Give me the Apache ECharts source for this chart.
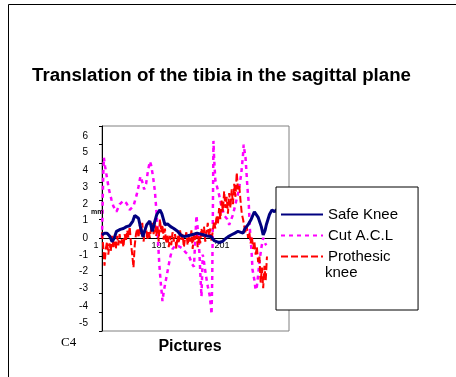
<!DOCTYPE html>
<html>
<head>
<meta charset="utf-8">
<script src="https://cdn.jsdelivr.net/npm/echarts@6/dist/echarts.min.js"></script>
<style>
  html, body { margin: 0; padding: 0; background: #fff; }
  #chart { width: 456px; height: 377px; }
</style>
</head>
<body>
<div id="chart"></div>
<script>
// ---- Data ----
const titleText = 'Translation of the tibia in the sagittal plane';
const seriesNames = ['Safe Knee', 'Cut A.C.L', 'Prothesic knee'];
const xTickLabels = [1, 101, 201];
const yTickValues = [-5, -4, -3, -2, -1, 0, 1, 2, 3, 4, 5, 6];

const safeFrames = [1,5,9,13,17,20,24,30,35,40,45,48,50,53,56,59,62,66,69,72,77,81,85,88,93,96,101,105,110,115,121,126,131,136,142,147,152,158,163,168,174,179,183,187,192,197,201,206,212,217,220,225,228,233,238,243,246,249,254,257,260,262,267,271,275,280,285,290,298];
const safeValues = [0.15,0.25,0.25,0.1,-0.2,-0.05,0.35,0.45,0.5,0.6,0.65,0.7,0.9,1.2,1.15,1.05,0.6,0.05,0.4,0.7,0.9,0.35,0.9,1.25,1.5,1.3,0.7,0.75,0.6,0.5,0.35,0.15,0.07,0.1,0.15,0.2,0.25,0.2,0.15,0.1,0.07,-0.15,-0.2,-0.25,-0.2,-0.05,0.05,0.15,0.25,0.35,0.38,0.25,0.5,0.7,1.0,1.4,1.3,1.1,0.6,0.15,0.4,0.7,1.25,1.5,1.4,1.55,1.6,1.5,1.6];

const aclFrames = [1,2,3,4,6,8,12,16,19,24,29,35,40,45,51,56,59,62,65,68,71,74,77,79,82,85,88,90,92,94,96,97,99,102,104,107,110,113,118,123,128,133,139,144,147,149,151,153,155,156,157,158,159,161,163,166,169,172,174,175,176,177,178,179,181,184,187,190,192,195,200,203,206,209,214,218,220,222,225,226,228,229,230,232,234,235,236,238,239,240,243,245,247,249,251,254,257,260,262];
const aclValues = [0,1.8,3.4,4.3,3.8,3.4,2.6,2.05,1.7,1.4,1.8,2.0,1.85,1.5,1.7,2.3,2.75,3.3,3.0,2.6,2.9,3.6,4.1,3.9,3.3,2.5,1.2,-0.2,-1.4,-2.3,-3.0,-3.4,-2.9,-2.35,-2.0,-1.45,-0.95,-0.6,-0.4,-0.45,-0.55,-0.75,-0.95,-1.4,-1.55,-0.2,1.2,0.5,-0.4,-1.0,-1.8,-2.5,-3.15,-0.9,-1.3,-2.0,-2.6,-3.1,-3.7,-4.1,-2.3,1.0,5.2,4.3,3.1,2.7,2.3,1.8,1.6,1.2,1.0,0.7,0.8,1.24,1.95,2.5,2.94,3.39,4.46,5.0,4.5,4.28,3.75,2.67,1.9,1.15,0.43,-0.47,-1.0,-1.7,-2.26,-2.8,-2.6,-2.0,-1.3,-0.55,0,-0.3,-0.4];

const protFrames = [1,3,5,7,9,11,13,15,17,19,21,23,25,27,29,31,33,35,37,39,41,43,45,47,49,51,53,55,57,59,61,63,65,67,69,71,73,75,77,79,81,83,85,87,89,91,93,95,97,99,101,103,105,107,109,111,113,115,117,119,121,123,125,127,129,131,133,135,137,139,141,143,145,147,149,151,153,155,157,159,161,163,165,167,169,171,173,175,177,179,181,183,185,187,189,191,193,195,197,199,201,203,205,207,209,211,213,215,217,219,221,223,225,227,229,231,233,235,237,239,241,243,245,247,249,251,253,255,257,259,261,263];
const protValues = [0.3,-0.5,-1.5,-0.6,-0.2,-0.9,-0.3,-0.7,0.1,-0.5,-0.2,-0.6,0.1,-0.4,0.2,-0.3,0.0,-0.5,0.2,-0.2,0.4,0.0,0.6,-0.3,-0.9,-1.6,-0.4,0.2,0.5,0.0,0.7,0.2,0.8,-0.2,0.3,0.6,-0.1,0.4,0.0,0.5,0.8,0.2,0.9,0.1,0.6,-0.2,1.0,0.3,0.7,-0.1,0.5,-0.3,0.2,-0.5,0.1,-0.4,0.3,-0.2,0.2,-0.6,0.1,-0.3,0.4,-0.1,0.2,-0.5,0.0,0.3,-0.4,0.1,-0.2,0.4,-0.6,0.2,-0.1,0.3,-0.5,0.1,-0.3,0.5,0.0,0.6,-0.2,0.3,0.8,0.1,0.5,-0.2,0.4,0.9,0.5,1.2,0.7,1.6,1.0,2.0,1.4,2.5,1.6,2.2,1.3,2.4,1.6,2.6,1.8,2.9,2.2,3.5,2.6,2.8,2.0,1.3,1.0,0.6,0.3,0.6,0.0,0.3,-0.3,0.1,-0.6,-0.2,-0.9,-0.5,-1.3,-1.0,-2.4,-1.6,-2.7,-1.5,-2.3,-1.0];

const pairs = (xs, ys) => xs.map((x, i) => [x, ys[i]]);

const FONT = '"Liberation Sans", Arial, sans-serif';
const chart = echarts.init(document.getElementById('chart'), null, { renderer: 'canvas' });

// grid geometry
const GRID_TOP = 126, GRID_H = 205, Y_MIN = -5, Y_MAX = 6;
const unitPx = GRID_H / (Y_MAX - Y_MIN);
const zeroOffset = -Math.round(GRID_H * (0 - Y_MIN) / (Y_MAX - Y_MIN)); // lift x axis up to y = 0

// The reference prints its y labels on a slightly tighter pitch (17px) than the ticks;
// reproduce that with per-label padding in rich text.
const LABEL_PITCH = 17;
const labelKey = v => (v < 0 ? 'm' : 'p') + Math.abs(v);
const yRich = {};
yTickValues.forEach(v => {
  const shift = (unitPx - LABEL_PITCH) * v; // + means move down
  const pad = Math.round(Math.abs(shift) * 2);
  yRich[labelKey(v)] = {
    fontFamily: FONT, fontSize: 10, color: '#000',
    padding: shift >= 0 ? [pad, 0, 0, 0] : [0, 0, pad, 0]
  };
});

chart.setOption({
  animation: false,
  backgroundColor: '#fff',
  title: {
    text: titleText,
    left: 32, top: 66, padding: 0,
    textStyle: { fontFamily: FONT, fontSize: 18.7, fontWeight: 'bold', color: '#000' }
  },
  grid: {
    left: 102, top: GRID_TOP, width: 187, height: GRID_H,
    show: true, borderColor: '#808080', borderWidth: 1, backgroundColor: 'transparent'
  },
  legend: {
    left: 276, top: 187, orient: 'vertical', z: 10,
    itemWidth: 42, itemHeight: 14, itemGap: 6,
    padding: [20, 20, 46, 4],
    backgroundColor: '#fff', borderColor: '#000', borderWidth: 1,
    data: seriesNames,
    itemStyle: { opacity: 0 },
    formatter: n => n === 'Prothesic knee' ? 'Prothesic' : n,
    textStyle: { fontFamily: FONT, fontSize: 15, color: '#000' }
  },
  xAxis: {
    type: 'value', min: 1, max: 298,
    position: 'bottom',
    offset: zeroOffset,
    axisLine: { onZero: false, lineStyle: { color: '#000', width: 1 } },
    axisTick: { show: false },
    splitLine: { show: false },
    axisLabel: {
      customValues: xTickLabels,
      fontFamily: FONT, fontSize: 9, color: '#000', margin: 3,
      padding: [0, 12, 0, 0]
    }
  },
  yAxis: {
    type: 'value', min: Y_MIN, max: Y_MAX, interval: 1,
    axisLine: { show: true, onZero: false, lineStyle: { color: '#000', width: 1 } },
    axisTick: { show: true, length: 3, customValues: yTickValues, lineStyle: { color: '#000' } },
    splitLine: { show: false },
    axisLabel: {
      customValues: yTickValues, fontFamily: FONT, fontSize: 10, color: '#000', margin: 14,
      formatter: v => '{' + labelKey(v) + '|' + v + '}',
      rich: yRich
    }
  },
  series: [
    {
      name: seriesNames[0], type: 'line', data: pairs(safeFrames, safeValues),
      symbol: 'none', z: 3,
      lineStyle: { color: '#000080', width: 3 }, itemStyle: { color: '#000080' }
    },
    {
      name: seriesNames[1], type: 'line', data: pairs(aclFrames, aclValues),
      symbol: 'none', z: 2,
      lineStyle: { color: '#ff00ff', width: 2.5, type: [4, 4] }, itemStyle: { color: '#ff00ff' }
    },
    {
      name: seriesNames[2], type: 'line', data: pairs(protFrames, protValues),
      symbol: 'none', z: 2.5,
      lineStyle: { color: '#ff0000', width: 2, type: [7, 3] }, itemStyle: { color: '#ff0000' }
    }
  ],
  graphic: [
    { type: 'line', silent: true, shape: { x1: 8.5, y1: 4.5, x2: 456, y2: 4.5 }, style: { stroke: '#000', lineWidth: 1 } },
    { type: 'line', silent: true, shape: { x1: 8.5, y1: 4.5, x2: 8.5, y2: 377 }, style: { stroke: '#000', lineWidth: 1 } },
    { type: 'text', silent: true, left: 91, top: 209, z: 10,
      style: { text: 'mm', font: 'bold 7px ' + FONT, fill: '#000' } },
    { type: 'text', silent: true, x: 190, y: 347, z: 10,
      style: { text: 'Pictures', font: 'bold 16px ' + FONT, fill: '#000', align: 'center', verticalAlign: 'middle' } },
    { type: 'text', silent: true, x: 61, y: 343, z: 10,
      style: { text: 'C4', font: '13px "Liberation Serif", "Times New Roman", serif', fill: '#000', verticalAlign: 'middle' } },
    { type: 'text', silent: true, x: 325, y: 273, z: 100,
      style: { text: 'knee', font: '15px ' + FONT, fill: '#000', verticalAlign: 'middle' } }
  ]
});
</script>
</body>
</html>
